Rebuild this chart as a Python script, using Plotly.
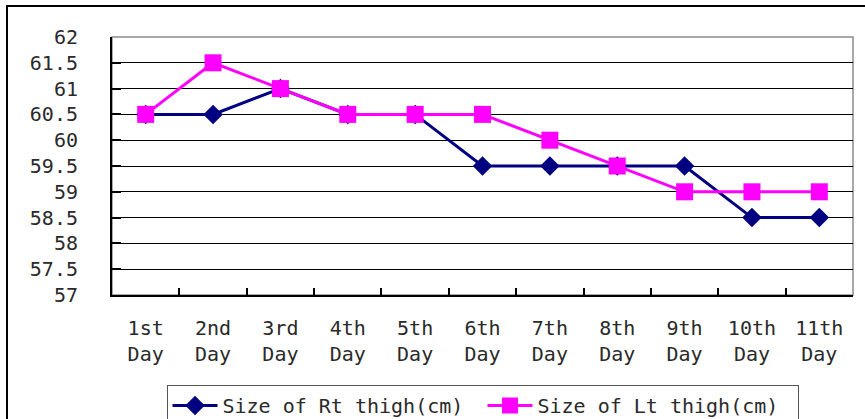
import plotly.graph_objects as go

# Daily thigh circumference measurements (cm)
days = ["1st<br>Day", "2nd<br>Day", "3rd<br>Day", "4th<br>Day", "5th<br>Day", "6th<br>Day",
        "7th<br>Day", "8th<br>Day", "9th<br>Day", "10th<br>Day", "11th<br>Day"]
rt_thigh = [60.5, 60.5, 61, 60.5, 60.5, 59.5, 59.5, 59.5, 59.5, 58.5, 58.5]
lt_thigh = [60.5, 61.5, 61, 60.5, 60.5, 60.5, 60, 59.5, 59, 59, 59]
y_ticks = [57, 57.5, 58, 58.5, 59, 59.5, 60, 60.5, 61, 61.5, 62]

W, H = 865, 419
L, R, T, B = 112, 12, 37, 124
pw, ph = W - L - R, H - T - B

def px_to_paper(x, y):
    return (x - L) / pw, (H - B - y) / ph

font_family = "DejaVu Sans Mono, DejaVu Sans, sans-serif"
text_color = "#2a2a2a"

fig = go.Figure()
fig.add_trace(go.Scatter(
    x=days, y=rt_thigh, mode="lines+markers", name="Size of Rt thigh(cm)",
    line=dict(color="#000080", width=3),
    marker=dict(symbol="diamond", size=15, color="#000080"),
))
fig.add_trace(go.Scatter(
    x=days, y=lt_thigh, mode="lines+markers", name="Size of Lt thigh(cm)",
    line=dict(color="#FF00FF", width=3),
    marker=dict(symbol="square", size=17, color="#FF00FF"),
))

# outer chart frame (extends past the page edges on the right and bottom)
fx0, fy1 = px_to_paper(7, 6)
fx1, fy0 = px_to_paper(880, 430)
fig.add_shape(type="rect", xref="paper", yref="paper",
              x0=fx0, x1=fx1, y0=fy0, y1=fy1,
              line=dict(color="black", width=2), layer="below")
# plot-area border
fig.add_shape(type="rect", xref="paper", yref="paper",
              x0=0, x1=1, y0=0, y1=1,
              line=dict(color="#8c8c8c", width=1.5), layer="below")

fig.update_layout(
    width=W, height=H,
    margin=dict(l=L, r=R, t=T, b=B, autoexpand=False),
    paper_bgcolor="white", plot_bgcolor="white",
    font=dict(family=font_family, size=20, color=text_color),
    showlegend=True,
    legend=dict(
        orientation="h", x=0.5, xanchor="center",
        y=px_to_paper(0, 385)[1], yanchor="top",
        bordercolor="#555555", borderwidth=1,
        font=dict(family=font_family, size=20, color=text_color),
        itemwidth=45, tracegroupgap=0,
        entrywidth=255, entrywidthmode="pixels",
    ),
)
fig.update_xaxes(
    type="category", range=[-0.5, 10.5], automargin=False,
    tickson="boundaries", ticks="inside", ticklen=7, tickwidth=1.5, tickcolor="black",
    showline=True, linecolor="black", linewidth=2,
    showgrid=False, zeroline=False,
    ticklabelstandoff=14,
)
fig.update_yaxes(
    range=[57, 62], tickvals=y_ticks, automargin=False,
    ticktext=[f"{v:g}" for v in y_ticks],
    ticks="inside", ticklen=9, tickwidth=1.5, tickcolor="black",
    showline=True, linecolor="black", linewidth=2,
    showgrid=True, gridcolor="black", gridwidth=1,
    zeroline=False, ticklabelstandoff=28,
)

fig.write_html("out.html")
